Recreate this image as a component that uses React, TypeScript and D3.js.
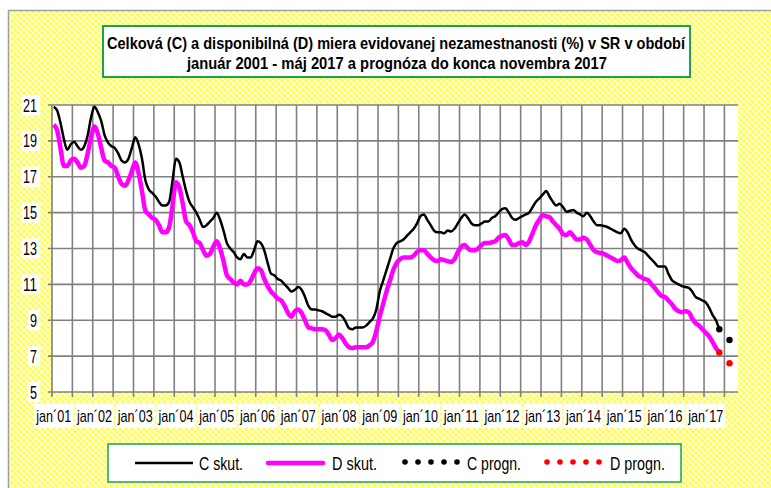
import React from 'react';
import * as d3 from 'd3';

const width = 771;
const height = 488;

// celková miera (C), mesačne
const c2001 = [20.9, 20.7, 20.0, 19.1, 18.5, 18.8, 18.95, 18.7, 18.5, 18.7, 19.3, 20.3];
const c2002 = [20.9, 20.6, 20.1, 19.3, 18.9, 18.7, 18.6, 18.3, 17.9, 17.8, 18.0, 18.6];
const c2003 = [19.2, 18.8, 18.0, 16.8, 16.3, 16.1, 15.9, 15.6, 15.4, 15.4, 15.6, 16.8];
const c2004 = [18.0, 17.8, 17.0, 16.2, 15.6, 15.3, 15.0, 14.6, 14.2, 14.3, 14.5, 14.7];
const c2005 = [15.0, 14.6, 14.0, 13.3, 13.0, 12.8, 12.5, 12.4, 12.7, 12.5, 12.5, 12.9];
const c2006 = [13.4, 13.3, 12.9, 12.2, 11.6, 11.5, 11.3, 11.2, 11.0, 10.8, 10.6, 10.7];
const c2007 = [10.85, 10.7, 10.3, 9.8, 9.6, 9.6, 9.55, 9.5, 9.4, 9.3, 9.2, 9.2];
const c2008 = [9.3, 9.2, 8.9, 8.55, 8.5, 8.6, 8.6, 8.6, 8.7, 8.9, 9.1, 9.6];
const c2009 = [10.6, 11.2, 11.8, 12.4, 13.0, 13.3, 13.4, 13.5, 13.7, 13.9, 14.1, 14.4];
const c2010 = [14.8, 14.9, 14.6, 14.3, 14.0, 13.9, 13.9, 13.85, 14.0, 13.95, 14.1, 14.4];
const c2011 = [14.7, 14.9, 14.7, 14.4, 14.3, 14.3, 14.4, 14.5, 14.5, 14.7, 14.8, 15.0];
const c2012 = [15.2, 15.25, 15.0, 14.7, 14.6, 14.7, 14.8, 14.9, 15.0, 15.3, 15.6, 15.8];
const c2013 = [16.0, 16.2, 15.9, 15.6, 15.4, 15.5, 15.3, 15.05, 15.1, 15.15, 15.0, 14.9];
const c2014 = [14.8, 15.0, 14.8, 14.5, 14.3, 14.3, 14.25, 14.2, 14.1, 14.0, 13.9, 13.85];
const c2015 = [14.1, 13.9, 13.5, 13.2, 13.0, 12.9, 12.8, 12.6, 12.4, 12.2, 12.0, 12.0];
const c2016 = [12.0, 11.6, 11.25, 11.1, 11.0, 10.9, 10.85, 10.8, 10.6, 10.3, 10.2, 10.1];
const c2017 = [10.0, 9.7, 9.3, 9.0, 8.5];

// disponibilná miera (D), mesačne
const d2001 = [19.9, 19.6, 18.6, 17.6, 17.6, 17.9, 18.0, 17.8, 17.5, 17.6, 18.3, 19.2];
const d2002 = [19.8, 19.4, 18.6, 17.9, 17.8, 17.6, 17.5, 17.0, 16.6, 16.5, 16.8, 17.3];
const d2003 = [17.8, 17.2, 16.2, 15.1, 14.9, 14.7, 14.6, 14.3, 13.9, 13.9, 14.2, 15.4];
const d2004 = [16.7, 16.4, 15.5, 14.5, 14.3, 13.9, 13.4, 13.3, 12.9, 12.6, 12.7, 13.1];
const d2005 = [13.4, 13.0, 12.3, 11.5, 11.3, 11.1, 11.0, 11.2, 11.0, 11.0, 11.2, 11.6];
const d2006 = [11.9, 11.8, 11.3, 10.9, 10.6, 10.4, 10.2, 10.1, 9.8, 9.4, 9.2, 9.5];
const d2007 = [9.6, 9.4, 9.0, 8.6, 8.55, 8.5, 8.5, 8.5, 8.45, 8.2, 7.9, 8.0];
const d2008 = [8.2, 8.0, 7.7, 7.5, 7.45, 7.5, 7.5, 7.5, 7.5, 7.6, 7.8, 8.4];
const d2009 = [9.2, 9.9, 10.6, 11.2, 11.8, 12.2, 12.4, 12.5, 12.5, 12.5, 12.6, 12.8];
const d2010 = [12.9, 12.9, 12.7, 12.5, 12.35, 12.3, 12.4, 12.35, 12.3, 12.25, 12.4, 12.8];
const d2011 = [13.1, 13.2, 13.0, 12.9, 12.9, 13.0, 13.2, 13.3, 13.3, 13.35, 13.4, 13.6];
const d2012 = [13.7, 13.75, 13.5, 13.2, 13.2, 13.3, 13.35, 13.2, 13.4, 13.85, 14.3, 14.6];
const d2013 = [14.85, 14.8, 14.75, 14.5, 14.3, 14.1, 13.8, 13.75, 13.9, 13.7, 13.5, 13.5];
const d2014 = [13.6, 13.5, 13.2, 12.9, 12.8, 12.75, 12.7, 12.6, 12.5, 12.4, 12.3, 12.35];
const d2015 = [12.5, 12.2, 11.9, 11.7, 11.5, 11.4, 11.3, 11.25, 11.0, 10.8, 10.55, 10.35];
const d2016 = [10.3, 10.1, 9.9, 9.65, 9.5, 9.45, 9.5, 9.45, 9.1, 8.85, 8.7, 8.5];
const d2017 = [8.3, 8.1, 7.8, 7.45, 7.2];

// prognóza: [index mesiaca od jan 2001, hodnota]
const cProgn = [[196, 8.5], [199, 7.9]];
const dProgn = [[196, 7.2], [199, 6.6]];

const years = d3.range(2001, 2018);
const monthCount = 202; // jan 2001 .. okt 2017
const yTicks = [5, 7, 9, 11, 13, 15, 17, 19, 21];

const cSkut = [c2001, c2002, c2003, c2004, c2005, c2006, c2007, c2008, c2009,
  c2010, c2011, c2012, c2013, c2014, c2015, c2016, c2017].flat();
const dSkut = [d2001, d2002, d2003, d2004, d2005, d2006, d2007, d2008, d2009,
  d2010, d2011, d2012, d2013, d2014, d2015, d2016, d2017].flat();

const font = "'Liberation Sans', Arial, sans-serif";

// narrow text: Arial squeezed to a fixed width
function NText({ len, children, ...rest }) {
  return (
    <text fontFamily={font} textLength={len} lengthAdjust="spacingAndGlyphs" {...rest}>
      {children}
    </text>
  );
}

export default function App() {
  const plot = { left: 52, right: 738, top: 105, bottom: 392 };

  const x = d3.scaleBand().domain(d3.range(monthCount)).range([plot.left, plot.right]);
  const bw = x.bandwidth();
  const cx = (i) => x(i) + bw / 2;
  const y = d3.scaleLinear().domain([5, 21]).range([plot.bottom, plot.top]);

  const line = d3.line().x((d, i) => cx(i)).y(d => y(d)).curve(d3.curveMonotoneX);

  const vGrid = d3.range(0, monthCount, 6);

  return (
    <svg width={width} height={height} style={{ position: 'absolute', left: 0, top: 0 }}>
      <defs>
        <pattern id="bg" width="6" height="6" patternUnits="userSpaceOnUse">
          <rect width="6" height="6" fill="#ffff40" />
          <path d="M0,0 L6,6 M6,0 L0,6" stroke="#ffffff" strokeWidth="1.2" />
        </pattern>
      </defs>
      <rect x={0} y={0} width={width} height={height} fill="#ffffff" />
      <rect x={8.5} y={10.5} width={800} height={500} fill="url(#bg)" stroke="#a0a0a0" strokeWidth="1.5" />

      {/* title */}
      <rect x={103} y={26} width={587} height={51} fill="#ffffff" stroke="#1aa34a" strokeWidth="2" />
      <NText x={107} y={48.5} len={578} fontWeight="bold" fontSize="16.5">
        Celková (C) a disponibilná (D) miera evidovanej nezamestnanosti (%) v SR v období
      </NText>
      <NText x={187} y={68.5} len={420} fontWeight="bold" fontSize="16.5">
        január 2001 - máj 2017 a prognóza do konca novembra 2017
      </NText>

      {/* plot area */}
      <rect x={plot.left} y={plot.top} width={plot.right - plot.left} height={plot.bottom - plot.top} fill="#ffffff" />
      {vGrid.map(i => (
        <line key={'v' + i} x1={x(i)} x2={x(i)} y1={plot.top} y2={plot.bottom + 5} stroke="#808080" strokeWidth="1.6" />
      ))}
      {yTicks.map(t => (
        <line key={'h' + t} x1={plot.left - 4} x2={plot.right} y1={y(t)} y2={y(t)} stroke="#808080" strokeWidth="1.6" />
      ))}

      {/* y labels */}
      {yTicks.map(t => {
        const w = String(t).length * 7;
        return (
          <g key={'yl' + t}>
            <rect x={35 - w} y={y(t) - 10} width={w + 5} height={20} fill="#ffffff" />
            <NText x={37 - w} y={y(t) + 6.5} len={w} fontSize="18.5">{t}</NText>
          </g>
        );
      })}

      {/* x labels */}
      {years.map((yr, k) => {
        const i = k * 12;
        const lbl = 'jan´' + String(yr).slice(2);
        return (
          <g key={'xl' + yr}>
            <rect x={cx(i) - 19.5} y={404} width={39} height={24} fill="#ffffff" />
            <NText x={cx(i) - 17.5} y={421.5} len={35} fontSize="17">{lbl}</NText>
          </g>
        );
      })}

      {/* series */}
      <path d={line(dSkut)} fill="none" stroke="#ff00ff" strokeWidth="4.5" strokeLinejoin="round" />
      <path d={line(cSkut)} fill="none" stroke="#000000" strokeWidth="2.5" strokeLinejoin="round" />
      {cProgn.map(([i, v]) => (
        <circle key={'cp' + i} cx={cx(i)} cy={y(v)} r={3.2} fill="#000000" />
      ))}
      {dProgn.map(([i, v]) => (
        <circle key={'dp' + i} cx={cx(i)} cy={y(v)} r={3.2} fill="#ff0000" />
      ))}

      {/* legend */}
      <rect x={108} y={444} width={573} height={38} fill="#ffffff" stroke="#1aa34a" strokeWidth="1.5" />
      <line x1={135} x2={193} y1={463} y2={463} stroke="#000000" strokeWidth="2.5" />
      <NText x={199} y={470} len={44} fontSize="19">C skut.</NText>
      <line x1={268} x2={323} y1={463} y2={463} stroke="#ff00ff" strokeWidth="4.5" strokeLinecap="round" />
      <NText x={332} y={470} len={45} fontSize="19">D skut.</NText>
      {d3.range(5).map(k => (
        <circle key={'lc' + k} cx={405 + k * 13} cy={462} r={2.8} fill="#000000" />
      ))}
      <NText x={467} y={470} len={54} fontSize="19">C progn.</NText>
      {d3.range(5).map(k => (
        <circle key={'ld' + k} cx={547 + k * 13} cy={462} r={2.8} fill="#ff0000" />
      ))}
      <NText x={610} y={470} len={55} fontSize="19">D progn.</NText>
    </svg>
  );
}
